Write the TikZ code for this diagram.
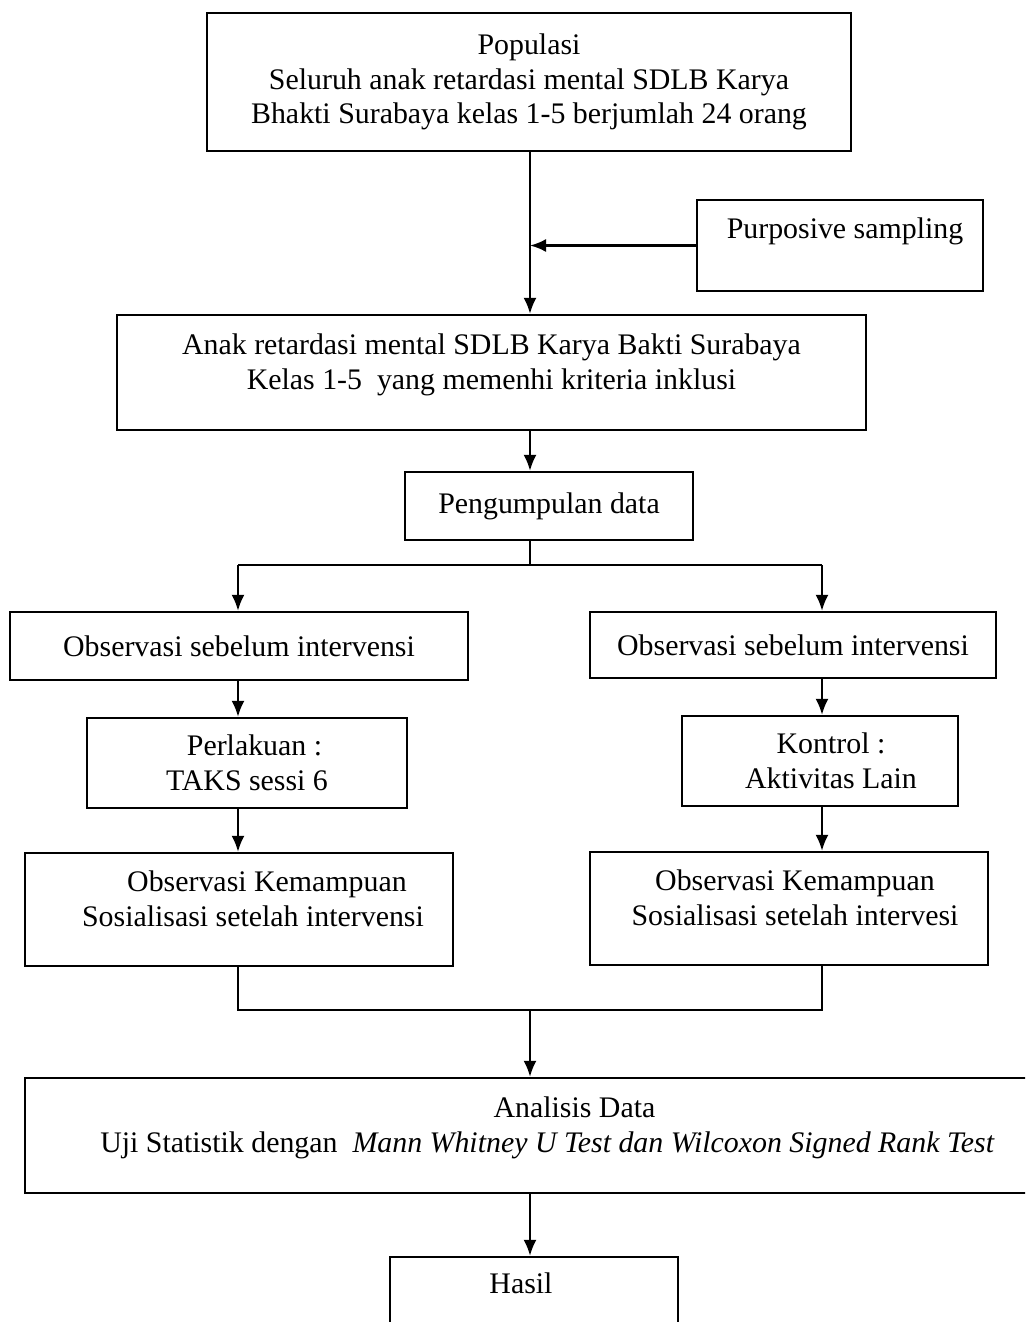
\documentclass[tikz,border=0pt]{standalone}
\usepackage{fontspec}
\setmainfont{Liberation Serif}
\usetikzlibrary{positioning, arrows.meta}

\begin{document}
\begin{tikzpicture}[x = 0.02cm, y = -0.02cm, > = {Latex[length = 3.2mm, width = 2.6mm]}, line width = 1.3pt,
	font = \fontsize{17}{19.8}\selectfont,
	tahap/.style = {draw, rectangle, align = center, inner sep = 0pt}]

	% Frame of the page

		\useasboundingbox (0, 0) rectangle (1025, 1322);
		\clip (0, 0) rectangle (1025, 1322);

	% Sample selection

		\node (populasi) [tahap, minimum width = 12.88cm, minimum height = 2.76cm] at (529, 82)
			{Populasi\\Seluruh anak retardasi mental SDLB Karya\\Bhakti Surabaya kelas 1-5 berjumlah 24 orang};
		\node (purposive) [tahap, minimum width = 5.72cm, minimum height = 1.82cm] at (840, 245.5)
			{\hspace*{0.2cm}Purposive sampling\\\mbox{}};
		\node (anak) [tahap, minimum width = 14.98cm, minimum height = 2.3cm] at (491.5, 372.5)
			{Anak retardasi mental SDLB Karya Bakti Surabaya\\Kelas 1-5~ yang memenhi kriteria inklusi\\[-2.6mm]\mbox{}};
		\node (data) [tahap, minimum width = 5.76cm, minimum height = 1.36cm] at (549, 506) {Pengumpulan data};

	% Two groups

		\node (obsA) [tahap, minimum width = 9.16cm, minimum height = 1.36cm] at (239, 646) {Observasi sebelum intervensi};
		\node (obsB) [tahap, minimum width = 8.12cm, minimum height = 1.32cm] at (793, 645) {Observasi sebelum intervensi};
		\node (perlakuan) [tahap, minimum width = 6.4cm, minimum height = 1.8cm] at (247, 763)
			{\hspace*{0.3cm}Perlakuan :\\TAKS sessi 6};
		\node (kontrol) [tahap, minimum width = 5.52cm, minimum height = 1.8cm] at (820, 761)
			{\hspace*{0.44cm}Kontrol :\\\hspace*{0.44cm}Aktivitas Lain};
		\node (kemA) [tahap, minimum width = 8.56cm, minimum height = 2.26cm] at (239, 909.5)
			{\hspace*{1.12cm}Observasi Kemampuan\\\hspace*{0.56cm}Sosialisasi setelah intervensi\\[-2.6mm]\mbox{}};
		\node (kemB) [tahap, minimum width = 7.96cm, minimum height = 2.26cm] at (789, 908.5)
			{\hspace*{0.24cm}Observasi Kemampuan\\\hspace*{0.24cm}Sosialisasi setelah intervesi\\[-2.6mm]\mbox{}};

	% Analysis and result

		\node (analisis) [tahap, minimum width = 20.3cm, minimum height = 2.3cm] at (532.5, 1135.5)
			{\hspace*{1.68cm}Analisis Data\\\hspace*{0.6cm}Uji Statistik dengan~ \textit{Mann Whitney U Test dan Wilcoxon Signed Rank Test}\\[-2.6mm]\mbox{}};
		\node (hasil) [tahap, minimum width = 5.76cm, minimum height = 1.76cm] at (534, 1301) {Hasil\hspace*{0.52cm}\\\mbox{}};

	% Branch points

		\coordinate (poros) at (530, 565);
		\coordinate (kiri) at (238, 565);
		\coordinate (kanan) at (822, 565);
		\coordinate (gabung) at (530, 1010);

	% Connectors

		\draw (data.south -| poros) -- (poros);
		\draw (kiri) -- (kanan);
		\draw (kiri |- kemA.south) -- (kiri |- gabung) -- (kanan |- gabung) -- (kanan |- kemB.south);

		\begin{scope}[->]

			\draw (populasi.south -| poros) -- (anak.north -| poros);
			\draw (purposive.west) -- (purposive.west -| poros);
			\draw (anak.south -| poros) -- (data.north -| poros);

			\draw (kiri) -- (kiri |- obsA.north);
			\draw (kiri |- obsA.south) -- (kiri |- perlakuan.north);
			\draw (kiri |- perlakuan.south) -- (kiri |- kemA.north);

			\draw (kanan) -- (kanan |- obsB.north);
			\draw (kanan |- obsB.south) -- (kanan |- kontrol.north);
			\draw (kanan |- kontrol.south) -- (kanan |- kemB.north);

			\draw (gabung) -- (gabung |- analisis.north);
			\draw (analisis.south -| gabung) -- (hasil.north -| gabung);

		\end{scope}

\end{tikzpicture}
\end{document}
